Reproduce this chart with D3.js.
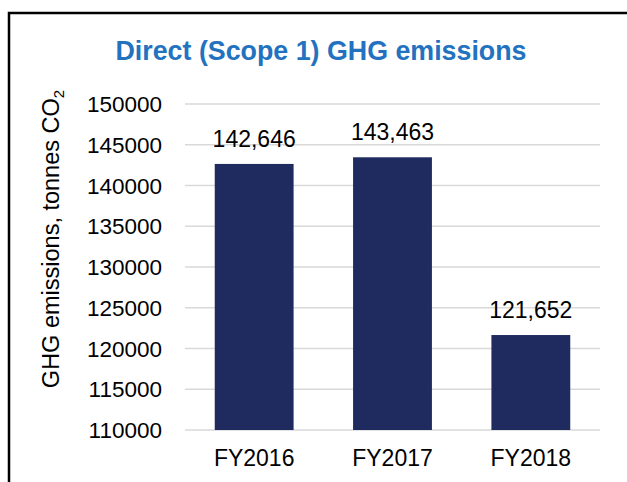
<!DOCTYPE html>
<html>
<head>
<meta charset="utf-8">
<script src="https://cdn.jsdelivr.net/npm/d3@7"></script>
<style>
  html, body { margin: 0; padding: 0; background: #fff; }
  svg { display: block; font-family: "Liberation Sans", Arial, sans-serif; }
</style>
</head>
<body>
<svg id="chart" width="627" height="482"></svg>
<script>
const categories = ["FY2016", "FY2017", "FY2018"];
const values = [142646, 143463, 121652];
const yTicks = [110000, 115000, 120000, 125000, 130000, 135000, 140000, 145000, 150000];
const title = "Direct (Scope 1) GHG emissions";

const svg = d3.select("#chart");

// frame (top and left edges visible)
svg.append("path")
  .attr("d", "M9,482 L9,13 L627,13")
  .attr("fill", "none")
  .attr("stroke", "#000")
  .attr("stroke-width", 2.5);

const x = d3.scaleBand().domain(categories).range([185, 600])
  .paddingInner(0.43).paddingOuter(0.215);
const y = d3.scaleLinear().domain([110000, 150000]).range([430, 104]);

// gridlines
svg.append("g").selectAll("line").data(yTicks).join("line")
  .attr("x1", 185).attr("x2", 600)
  .attr("y1", d => y(d)).attr("y2", d => y(d))
  .attr("stroke", "#d9d9d9").attr("stroke-width", 1.5);

// y tick labels
svg.append("g").selectAll("text").data(yTicks).join("text")
  .attr("x", 162).attr("y", d => y(d)).attr("dy", "0.36em")
  .attr("text-anchor", "end")
  .attr("font-size", 22.5).attr("fill", "#000")
  .text(d => d);

// bars
svg.append("g").selectAll("rect").data(values).join("rect")
  .attr("x", (d, i) => x(categories[i]))
  .attr("width", x.bandwidth())
  .attr("y", d => y(d))
  .attr("height", d => y(110000) - y(d))
  .attr("fill", "#1f2b5e");

// value labels
svg.append("g").selectAll("text").data(values).join("text")
  .attr("x", (d, i) => x(categories[i]) + x.bandwidth() / 2)
  .attr("y", d => y(d) - 17)
  .attr("text-anchor", "middle")
  .attr("font-size", 23).attr("fill", "#000")
  .text(d => d3.format(",")(d));

// category labels
svg.append("g").selectAll("text").data(categories).join("text")
  .attr("x", d => x(d) + x.bandwidth() / 2)
  .attr("y", 466)
  .attr("text-anchor", "middle")
  .attr("font-size", 23).attr("fill", "#000")
  .text(d => d);

// title
svg.append("text")
  .attr("x", 321).attr("y", 60)
  .attr("text-anchor", "middle")
  .attr("font-size", 26.8).attr("font-weight", "bold")
  .attr("fill", "#2372c0")
  .text(title);

// y axis label
const yl = svg.append("text")
  .attr("transform", "translate(59,239) rotate(-90)")
  .attr("text-anchor", "middle")
  .attr("font-size", 23.5).attr("fill", "#000");
yl.append("tspan").text("GHG emissions, tonnes CO");
yl.append("tspan").attr("font-size", 15).attr("dy", 5).text("2");
</script>
</body>
</html>
